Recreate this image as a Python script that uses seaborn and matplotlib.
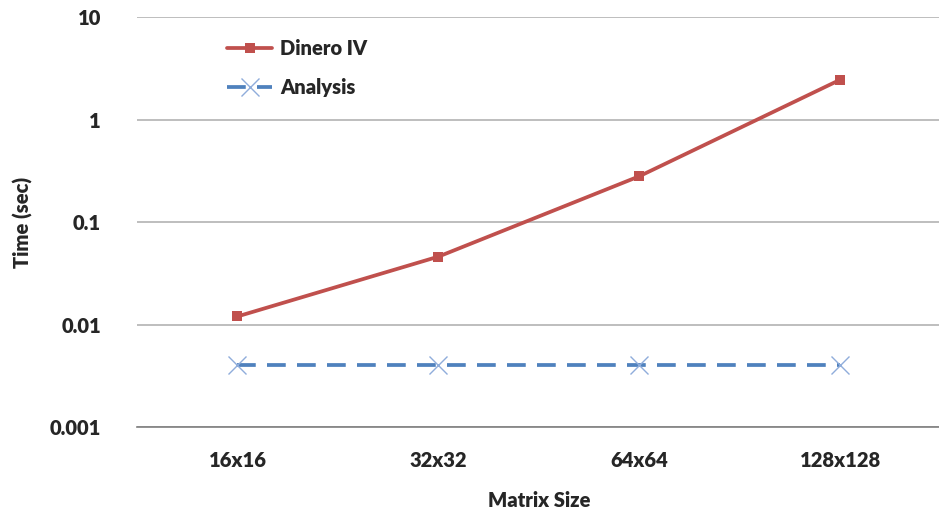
import pandas as pd
import seaborn as sns
import matplotlib
matplotlib.use("Agg")
import matplotlib.pyplot as plt

# Werte
matrix_sizes = ["16x16", "32x32", "64x64", "128x128"]
dinero_iv = [0.012, 0.046, 0.28, 2.45]
analysis = [0.004, 0.004, 0.004, 0.004]

df_dinero = pd.DataFrame({"size": matrix_sizes, "time": dinero_iv})
df_analysis = pd.DataFrame({"size": matrix_sizes, "time": analysis})

sns.set_style("white")
plt.rcParams["font.family"] = ["Lato", "DejaVu Sans"]
W = "heavy"

fig = plt.figure(figsize=(9.39, 5.17), dpi=100)
ax = fig.add_axes([0.1459, 0.174, 0.856, 0.793])

sns.lineplot(data=df_dinero, x="size", y="time", ax=ax, color="#C0504D",
             linewidth=2.7, marker="s", markersize=7, markeredgewidth=0,
             label="Dinero IV", sort=False)
sns.lineplot(data=df_analysis, x="size", y="time", ax=ax, color="#4F81BD",
             linewidth=2.7, dashes=(5, 3), marker="x", markersize=13,
             markeredgewidth=1.0, markeredgecolor="#8FADDB",
             label="Analysis", sort=False)

ax.set_yscale("log")
ax.set_ylim(0.001, 10)
ax.set_xlim(-0.5, 3.5)
ax.set_yticks([0.001, 0.01, 0.1, 1, 10])
ax.set_yticklabels(["0.001", "0.01", "0.1", "1", "10"])
ax.minorticks_off()
ax.yaxis.grid(True, color="#B3B3B3", linewidth=1.2)
ax.set_axisbelow(True)

for s in ["left", "right", "top"]:
    ax.spines[s].set_visible(False)
ax.spines["bottom"].set_color("#7F7F7F")
ax.spines["bottom"].set_linewidth(1.2)

ax.tick_params(axis="x", direction="inout", length=9, width=1, color="#7F7F7F",
               labelsize=14.5, pad=13)
ax.tick_params(axis="y", length=0, labelsize=14.5, pad=26)
for lab in ax.get_xticklabels() + ax.get_yticklabels():
    lab.set_fontweight(W)

ax.set_xlabel("Matrix Size", fontsize=14.5, fontweight=W, labelpad=15)
ax.set_ylabel("Time (sec)", fontsize=14.5, fontweight=W, labelpad=12)

leg = ax.legend(loc="upper left", bbox_to_anchor=(0.09, 0.99), frameon=False,
                fontsize=14.5, handlelength=2.2, handletextpad=0.4, labelspacing=1.0)
for t in leg.get_texts():
    t.set_fontweight(W)

fig.savefig("out.png", dpi=100)
